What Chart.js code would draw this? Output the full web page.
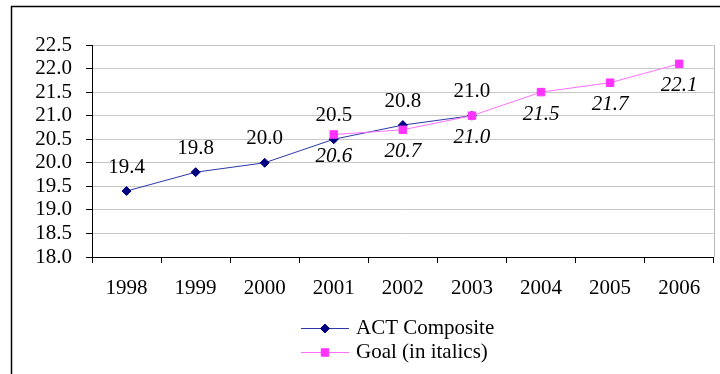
<!DOCTYPE html>
<html>
<head>
<meta charset="utf-8">
<script src="https://cdn.jsdelivr.net/npm/chart.js@4"></script>
<style>
  html, body { margin: 0; padding: 0; background: #fff; }
  canvas { display: block; }
</style>
</head>
<body>
<canvas id="c" width="720" height="374"></canvas>
<script>
// Categories and series
const years = ['1998', '1999', '2000', '2001', '2002', '2003', '2004', '2005', '2006'];
const actComposite = [19.4, 19.8, 20.0, 20.5, 20.8, 21.0, null, null, null];
const goal = [null, null, null, 20.6, 20.7, 21.0, 21.5, 21.7, 22.1];
const seriesNames = ['ACT Composite', 'Goal (in italics)'];

// Value axis range
const yMin = 18.0;
const yMax = 22.5;
const yStep = 0.5;

const SERIF = '"Liberation Serif", "Times New Roman", serif';
const FONT_SIZE = 21;

// Value labels: ACT above the point (upright), goal below the point (italic)
const valueLabels = {
  id: 'valueLabels',
  afterDatasetsDraw(chart) {
    const ctx = chart.ctx;
    ctx.save();
    ctx.fillStyle = '#000';
    ctx.textAlign = 'center';
    ctx.textBaseline = 'middle';
    chart.data.datasets.forEach((ds, i) => {
      const meta = chart.getDatasetMeta(i);
      ctx.font = (ds.labelItalic ? 'italic ' : '') + FONT_SIZE + 'px ' + SERIF;
      meta.data.forEach((el, j) => {
        const v = ds.data[j];
        if (v === null || v === undefined) return;
        ctx.fillText(v.toFixed(1), el.x, el.y + ds.labelOffset);
      });
    });
    ctx.restore();
  }
};

// Page frame, plot border on the right and the two-row legend
const frame = {
  id: 'frame',
  beforeDraw(chart) {
    const ctx = chart.ctx;
    ctx.save();
    ctx.fillStyle = '#fff';
    ctx.fillRect(0, 0, chart.width, chart.height);
    ctx.restore();
  },
  afterDraw(chart) {
    const ctx = chart.ctx;
    const a = chart.chartArea;
    ctx.save();
    // right edge of the plot area
    ctx.strokeStyle = '#b8b8b8';
    ctx.lineWidth = 1;
    ctx.beginPath();
    ctx.moveTo(Math.round(a.right) + 0.5, a.top);
    ctx.lineTo(Math.round(a.right) + 0.5, a.bottom);
    ctx.stroke();
    // outer frame
    ctx.strokeStyle = '#000';
    ctx.lineWidth = 1.5;
    ctx.strokeRect(11.5, 6.5, chart.width + 20, chart.height + 20);

    // legend
    const rows = [328, 352];
    const x0 = 301, x1 = 349, xm = 325, xt = 356;
    chart.data.datasets.forEach((ds, i) => {
      const y = rows[i];
      ctx.strokeStyle = ds.borderColor;
      ctx.lineWidth = 1;
      ctx.beginPath();
      ctx.moveTo(x0, y + 0.5);
      ctx.lineTo(x1, y + 0.5);
      ctx.stroke();
      ctx.fillStyle = ds.pointBackgroundColor;
      ctx.strokeStyle = ds.pointBorderColor;
      Chart.helpers.drawPoint(ctx, {
        pointStyle: ds.pointStyle, radius: ds.pointRadius, rotation: 0, borderWidth: 1
      }, xm, y + 0.5);
      ctx.fillStyle = '#000';
      ctx.font = FONT_SIZE + 'px ' + SERIF;
      ctx.textAlign = 'left';
      ctx.textBaseline = 'middle';
      ctx.fillText(seriesNames[i], xt, y);
    });
    ctx.restore();
  }
};

new Chart(document.getElementById('c'), {
  type: 'line',
  data: {
    labels: years,
    datasets: [
      {
        label: seriesNames[0],
        data: actComposite,
        order: 1,
        borderColor: '#2a3aa8',
        borderWidth: 1,
        pointStyle: 'rectRot',
        pointRadius: 4.5,
        pointBackgroundColor: '#000080',
        pointBorderColor: '#000080',
        pointBorderWidth: 1,
        labelOffset: -24,
        labelItalic: false,
        spanGaps: false
      },
      {
        label: seriesNames[1],
        data: goal,
        order: 0,
        borderColor: '#ff70ff',
        borderWidth: 1,
        pointStyle: 'rect',
        pointRadius: 5.3,
        pointBackgroundColor: '#ff33ff',
        pointBorderColor: '#ff33ff',
        pointBorderWidth: 1,
        labelOffset: 22,
        labelItalic: true,
        spanGaps: false
      }
    ]
  },
  options: {
    responsive: false,
    devicePixelRatio: 1,
    animation: false,
    events: [],
    layout: { padding: { left: 0, top: 45, right: 6, bottom: 77 } },
    plugins: {
      legend: { display: false },
      tooltip: { enabled: false },
      title: { display: false }
    },
    scales: {
      x: {
        type: 'category',
        offset: true,
        grid: {
          offset: true,
          drawOnChartArea: false,
          drawTicks: true,
          tickLength: 6,
          tickColor: '#000',
          color: '#000'
        },
        border: { display: true, color: '#000', width: 1 },
        ticks: {
          color: '#000',
          font: { family: SERIF, size: FONT_SIZE },
          padding: 13,
          maxRotation: 0,
          autoSkip: false
        },
        afterFit(scale) { scale.height = 40; }
      },
      y: {
        min: yMin,
        max: yMax,
        grid: {
          color: '#c8c8c8',
          lineWidth: 1,
          drawTicks: true,
          tickLength: 6,
          tickColor: '#000'
        },
        border: { display: true, color: '#000', width: 1 },
        ticks: {
          stepSize: yStep,
          autoSkip: false,
          color: '#000',
          font: { family: SERIF, size: FONT_SIZE },
          padding: 14,
          callback: (v) => Number(v).toFixed(1)
        },
        afterFit(scale) { scale.width = 92; }
      }
    }
  },
  plugins: [frame, valueLabels]
});
</script>
</body>
</html>
